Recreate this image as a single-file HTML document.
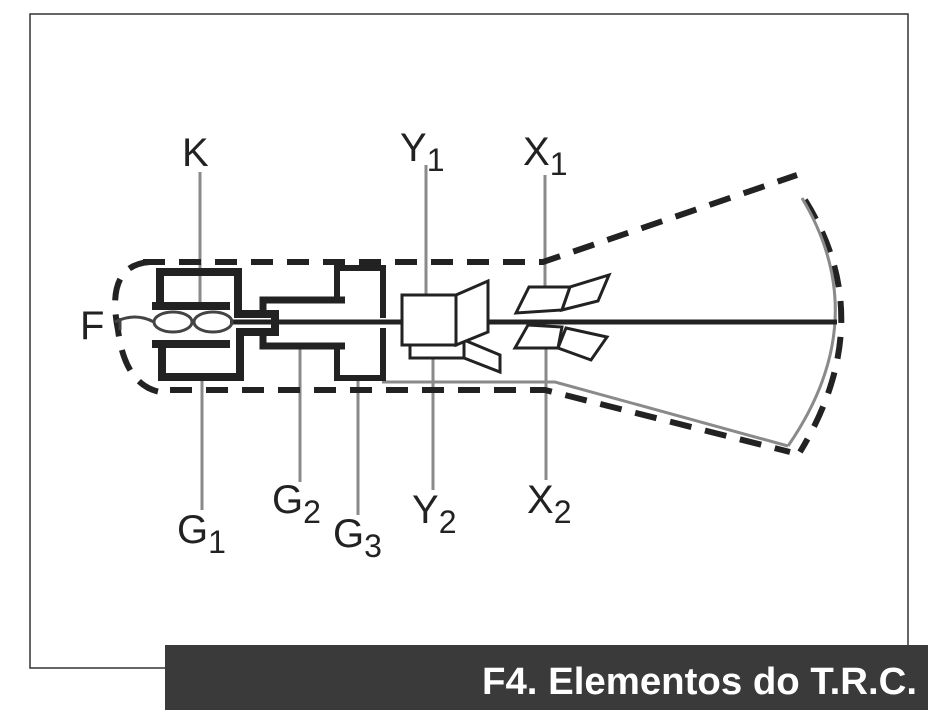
<!DOCTYPE html>
<html><head><meta charset="utf-8"><style>
body{margin:0;background:#fff;}
svg{display:block;}
</style></head><body>
<svg width="938" height="724" viewBox="0 0 938 724" xmlns="http://www.w3.org/2000/svg">
<rect width="938" height="724" fill="#fff"/>
<polyline points="165,668 30,668 30,14 908,14 908,645" fill="none" stroke="#333" stroke-width="1.5"/>
<g stroke="#8a8a8a" stroke-width="3">
<line x1="200" y1="172" x2="200" y2="305"/>
<line x1="426" y1="165" x2="426" y2="295"/>
<line x1="545" y1="175" x2="545" y2="305"/>
<line x1="202" y1="380" x2="202" y2="510"/>
<line x1="300" y1="348" x2="300" y2="482"/>
<line x1="358" y1="380" x2="358" y2="515"/>
<line x1="433" y1="358" x2="433" y2="490"/>
<line x1="546" y1="338" x2="546" y2="480"/>
</g>
<g fill="none" stroke="#222" stroke-width="6" stroke-dasharray="22,14">
<polyline points="143,262 543,262 797,175"/>
<polyline points="170,390 545,390 790,452"/>
<path d="M150,262 Q105,265 118,330 Q125,385 160,392"/>
<path d="M805,200 Q880,320 800,452"/>
</g>
<g fill="none" stroke="#8a8a8a" stroke-width="3">
<path d="M802,198 Q875,320 788,446"/>
<polyline points="382,382 555,382 788,446"/>
</g>
<line x1="230" y1="322" x2="837" y2="322" stroke="#222" stroke-width="5"/>
<g fill="none" stroke="#222" stroke-width="8">
<polyline points="160,305 160,272 238,272 238,318"/>
<line x1="152" y1="306" x2="230" y2="306"/>
<line x1="152" y1="344" x2="230" y2="344"/>
<polyline points="162,344 162,377 240,377 240,328"/>
<polyline points="236,314 275,314 275,332 236,332"/>
</g>
<g fill="none" stroke="#444" stroke-width="3">
<ellipse cx="173" cy="322" rx="19" ry="10"/>
<ellipse cx="213" cy="322" rx="19" ry="10"/>
<path d="M115,322 Q135,312 154,322 M120,318 L120,330"/>
</g>
<g fill="none" stroke="#222" stroke-width="7">
<polyline points="263,318 263,300 345,300"/>
<polyline points="263,328 263,346 345,346"/>
</g>
<g fill="none" stroke="#222">
<polyline points="337,300 337,268 383,268 383,318" stroke-width="6"/>
<polyline points="337,346 337,378 383,378 383,328" stroke-width="6"/>
</g>
<g fill="#fff" stroke="#222" stroke-width="3">
<rect x="410" y="340" width="54" height="18"/>
<polygon points="464,340 500,355 500,372 464,358"/>
<rect x="402" y="295" width="54" height="50"/>
<polygon points="456,295 488,281 488,332 456,345"/>
</g>
<g fill="#fff" stroke="#222" stroke-width="3">
<polygon points="516,313 529,287 570,287 562,310"/>
<polygon points="562,310 570,287 609,275 598,301"/>
<polygon points="515,348 528,325 562,327 558,348"/>
<polygon points="558,348 566,328 607,337 591,360"/>
</g>
<g font-family="Liberation Sans, sans-serif" font-size="40" fill="#222">
<text x="182" y="166">K</text>
<text x="400" y="161">Y<tspan font-size="32" dy="10">1</tspan></text>
<text x="523" y="165">X<tspan font-size="32" dy="10">1</tspan></text>
<text x="80" y="339">F</text>
<text x="177" y="543">G<tspan font-size="32" dy="10">1</tspan></text>
<text x="272" y="513">G<tspan font-size="32" dy="10">2</tspan></text>
<text x="333" y="547">G<tspan font-size="32" dy="10">3</tspan></text>
<text x="412" y="523">Y<tspan font-size="32" dy="10">2</tspan></text>
<text x="527" y="513">X<tspan font-size="32" dy="10">2</tspan></text>
</g>
<rect x="165" y="645" width="763" height="65" fill="#3a3a3a"/>
<text x="917" y="694" text-anchor="end" font-family="Liberation Sans, sans-serif" font-weight="bold" font-size="38" fill="#fff" textLength="435" lengthAdjust="spacingAndGlyphs">F4. Elementos do T.R.C.</text>
</svg>
</body></html>
